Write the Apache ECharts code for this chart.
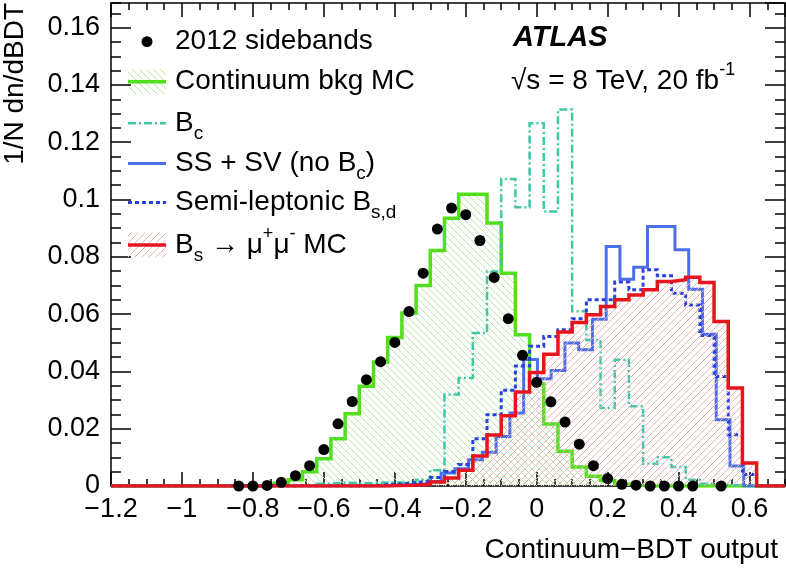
<!DOCTYPE html>
<html><head><meta charset="utf-8">
<script src="https://cdn.jsdelivr.net/npm/echarts@6/dist/echarts.min.js"></script>
<style>html,body{margin:0;padding:0;background:#fff}#c{width:786px;height:570px}</style>
</head><body><div id="c"></div>
<script>
// ---------------- data ----------------
const X_MIN = -1.2, X_MAX = 0.7, Y_MAX = 0.1686;
const binWidth = 0.04;
const binCenters = [-1.20,-1.16,-1.12,-1.08,-1.04,-1.00,-0.96,-0.92,-0.88,-0.84,
 -0.80,-0.76,-0.72,-0.68,-0.64,-0.60,-0.56,-0.52,-0.48,-0.44,
 -0.40,-0.36,-0.32,-0.28,-0.24,-0.20,-0.16,-0.12,-0.08,-0.04,
 0.00,0.04,0.08,0.12,0.16,0.20,0.24,0.28,0.32,0.36,
 0.40,0.44,0.48,0.52,0.56,0.60,0.64,0.68];
const continuumMC = [0,0,0,0,0,0,0,0,0,0,
 0,0.0003,0.0010,0.0022,0.0050,0.0095,0.0165,0.0252,0.0348,0.0433,
 0.0518,0.0604,0.0700,0.0822,0.0935,0.1018,0.1018,0.0918,0.0743,0.0528,
 0.0356,0.0216,0.0121,0.0066,0.0034,0.0019,0.0007,0.0002,0,0,
 0,0,0,0,0,0,0,0];
const bcMC = [0,0,0,0,0,0,0,0,0,0,
 0,0,0,0,0,0.0008,0.0012,0.0010,0.0010,0.0012,
 0.0012,0.0015,0.0022,0.0055,0.0319,0.0377,0.0534,0.0749,0.1072,0.0973,
 0.1266,0.0958,0.1314,0.0610,0.0510,0.0272,0.0441,0.0278,0.0078,0.0100,
 0.0066,0.0022,0.0008,0.0004,0.0002,0,0,0];
const semiLeptonicMC = [0,0,0,0,0,0,0,0,0,0,
 0,0,0,0,0,0,0,0,0,0.0005,
 0.0008,0.0012,0.0018,0.0030,0.0051,0.0075,0.0165,0.0249,0.0334,0.0419,
 0.0488,0.0522,0.0545,0.0584,0.0650,0.0650,0.0712,0.0685,0.0755,0.0734,
 0.0673,0.0632,0.0525,0.0382,0.0179,0.0040,0,0];
const bsmumuMC = [0,0,0,0,0,0,0,0,0,0,
 0,0,0,0,0,0,0,0,0,0,
 0.0002,0.0003,0.0006,0.0014,0.0028,0.0055,0.0105,0.0178,0.0245,0.0328,
 0.0396,0.0460,0.0538,0.0571,0.0598,0.0627,0.0650,0.0667,0.0685,0.0714,
 0.0720,0.0729,0.0710,0.0574,0.0342,0.0080,0,0];
// SS + SV histogram: 49 bins spanning the axis range
const ssSvLo = -1.2, ssSvHi = 0.7;
const ssSvMC = [0,0,0,0,0,0,0,0,0,0,
 0,0,0,0,0,0,0,0,0,0,
 0.0003,0.0005,0.0008,0.0016,0.0045,0.0060,0.0092,0.0118,0.0173,0.0255,
 0.0442,0.0374,0.0403,0.0499,0.0476,0.0582,0.0836,0.0722,0.0764,0.0906,
 0.0906,0.0825,0.0687,0.0530,0.0231,0.0070,0,0,0];
const sidebandX = [-0.84,-0.80,-0.76,-0.72,-0.68,-0.64,-0.60,-0.56,-0.52,-0.48,
 -0.44,-0.40,-0.36,-0.32,-0.28,-0.24,-0.20,-0.16,-0.12,-0.08,
 -0.04,0.00,0.04,0.08,0.12,0.16,0.20,0.24,0.28,0.32,
 0.36,0.40,0.44,0.52];
const sidebandY = [0,0,0.0002,0.0013,0.0036,0.0071,0.0127,0.0217,0.0295,0.0371,
 0.0434,0.0501,0.0609,0.0743,0.0897,0.0970,0.0947,0.0857,0.0728,0.0584,
 0.0456,0.0362,0.0294,0.0223,0.0146,0.0071,0.0026,0.0006,0.0003,0,
 0,0,0,0];
const xMajor = 0.2, xMinor = 0.05, yMajor = 0.02, yMinor = 0.005;

// ---------------- helpers ----------------
const FONT = '"Liberation Sans", Arial, Helvetica, sans-serif';
function histFromCenters(centers, vals, w) {
  const pts = centers.map((c, i) => [Math.max(X_MIN, c - w / 2), vals[i]]);
  pts.push([Math.min(X_MAX, centers[centers.length - 1] + w / 2), vals[vals.length - 1]]);
  return pts;
}
function histFromRange(lo, hi, vals) {
  const w = (hi - lo) / vals.length;
  const pts = vals.map((v, k) => [lo + k * w, v]);
  pts.push([hi, vals[vals.length - 1]]);
  return pts;
}
function hatch(color, dir) {
  const s = 7;
  const c = document.createElement('canvas'); c.width = s; c.height = s;
  const g = c.getContext('2d'); g.strokeStyle = color; g.lineWidth = 1;
  g.beginPath();
  for (const o of [-s, 0, s]) {
    if (dir === 'back') { g.moveTo(o, 0); g.lineTo(o + s, s); }
    else { g.moveTo(o, s); g.lineTo(o + s, 0); }
  }
  g.stroke();
  return { image: c, repeat: 'repeat' };
}
const GREEN = '#52E01E', TEAL = '#3FC8A2', BLUE = '#4A6FE6', DBLUE = '#2A40DE', RED = '#E6141C';
const greenHatch = hatch('#B2E8A4', 'back');
const redHatch = hatch('#EFB2B2', 'fwd');
const BC_DASH = [8, 3, 2, 3], DOT_DASH = [4, 3];

const blk = { color: '#000', width: 1.5 };
function xAxisDef(pos, interval, tickLen, withLine, withLabel) {
  return {
    type: 'value', position: pos, min: X_MIN, max: X_MAX, interval: interval,
    axisLine: { show: withLine, onZero: false, lineStyle: blk },
    axisTick: { show: true, inside: true, length: tickLen, lineStyle: blk },
    splitLine: { show: false },
    axisLabel: withLabel ? {
      show: true, margin: 10, fontSize: 27, color: '#000', fontFamily: FONT,
      showMaxLabel: false,
      formatter: v => String(+(+v).toFixed(2)).replace('-', '\u2212')
    } : { show: false }
  };
}
function yAxisDef(pos, interval, tickLen, withLine, withLabel) {
  return {
    type: 'value', position: pos, min: 0, max: Y_MAX, interval: interval,
    axisLine: { show: withLine, onZero: false, lineStyle: blk },
    axisTick: { show: true, inside: true, length: tickLen, lineStyle: blk },
    splitLine: { show: false },
    axisLabel: withLabel ? {
      show: true, margin: 11, fontSize: 27, color: '#000', fontFamily: FONT,
      showMaxLabel: false,
      formatter: v => String(+(+v).toFixed(3))
    } : { show: false }
  };
}
function lineSeries(name, data, color, width, type, area, z) {
  const s = {
    type: 'line', name: name, data: data, step: 'end', symbol: 'none', showSymbol: false,
    xAxisIndex: 0, yAxisIndex: 0, z: z, clip: true,
    lineStyle: { color: color, width: width, type: type, cap: 'butt', join: 'miter' },
    emphasis: { disabled: true }
  };
  if (area) s.areaStyle = { color: area, opacity: 1 };
  return s;
}

const RICH = {
  m: { fontSize: 28, lineHeight: 40, fontFamily: FONT, fill: '#000', color: '#000' },
  sub: { fontSize: 19, lineHeight: 20, verticalAlign: 'bottom', fontFamily: FONT, fill: '#000', color: '#000' },
  sup: { fontSize: 18, lineHeight: 22, verticalAlign: 'top', fontFamily: FONT, fill: '#000', color: '#000' }
};
function rtext(x, y, text, extra) {
  return Object.assign({
    type: 'text', x: x, y: y, z: 100,
    style: { text: text, rich: RICH, fill: '#000', fontSize: 28, fontFamily: FONT,
      align: 'left', verticalAlign: 'middle', textAlign: 'left', textVerticalAlign: 'middle' }
  }, extra || {});
}

const LX1 = 128, LX2 = 166, LTX = 175;
const rows = [41.7, 81.7, 123.3, 163.5, 202.5, 245];
const graphics = [
  // legend symbols
  { type: 'circle', z: 100, shape: { cx: 147, cy: rows[0], r: 5.5 }, style: { fill: '#000' } },
  { type: 'rect', z: 100, shape: { x: LX1, y: rows[1] - 12.5, width: LX2 - LX1, height: 25 }, style: { fill: greenHatch } },
  { type: 'line', z: 101, shape: { x1: LX1, y1: rows[1], x2: LX2, y2: rows[1] }, style: { stroke: GREEN, lineWidth: 3.5 } },
  { type: 'line', z: 101, shape: { x1: LX1, y1: rows[2], x2: LX2, y2: rows[2] }, style: { stroke: TEAL, lineWidth: 2.5, lineDash: BC_DASH } },
  { type: 'line', z: 101, shape: { x1: LX1, y1: rows[3], x2: LX2, y2: rows[3] }, style: { stroke: BLUE, lineWidth: 3 } },
  { type: 'line', z: 101, shape: { x1: LX1, y1: rows[4], x2: LX2, y2: rows[4] }, style: { stroke: DBLUE, lineWidth: 3, lineDash: DOT_DASH } },
  { type: 'rect', z: 100, shape: { x: LX1, y: rows[5] - 12.5, width: LX2 - LX1, height: 25 }, style: { fill: redHatch } },
  { type: 'line', z: 101, shape: { x1: LX1, y1: rows[5], x2: LX2, y2: rows[5] }, style: { stroke: RED, lineWidth: 3.5 } },
  // legend texts
  rtext(LTX, rows[0], '{m|2012 sidebands}'),
  rtext(LTX, rows[1], '{m|Continuum bkg MC}'),
  rtext(LTX, rows[2], '{m|B}{sub|c}'),
  rtext(LTX, rows[3], '{m|SS + SV (no B}{sub|c}{m|)}'),
  rtext(LTX, rows[4], '{m|Semi-leptonic B}{sub|s,d}'),
  rtext(LTX, rows[5], '{m|B}{sub|s}{m| \u2192 \u03bc}{sup|+}{m|\u03bc}{sup|-}{m| MC}'),
  // ATLAS label
  { type: 'text', x: 513, y: 37.5, z: 100, style: { text: 'ATLAS', fill: '#000', fontSize: 29, fontWeight: 'bold', fontStyle: 'italic', fontFamily: FONT, align: 'left', verticalAlign: 'middle', textAlign: 'left', textVerticalAlign: 'middle' } },
  rtext(511, 81.5, '{m|\u221As = 8 TeV, 20 fb}{sup|-1}'),
  // axis titles
  { type: 'text', x: 778, y: 550, z: 100, style: { text: 'Continuum\u2212BDT output', fill: '#000', fontSize: 28, fontFamily: FONT, align: 'right', verticalAlign: 'middle', textAlign: 'right', textVerticalAlign: 'middle' } },
  { type: 'text', x: 15, y: 3, rotation: Math.PI / 2, z: 100, style: { text: '1/N dn/dBDT', fill: '#000', fontSize: 28, fontFamily: FONT, align: 'right', verticalAlign: 'middle', textAlign: 'right', textVerticalAlign: 'middle' } }
];

const chart = echarts.init(document.getElementById('c'), null, { renderer: 'canvas' });
chart.setOption({
  animation: false,
  backgroundColor: '#fff',
  grid: { left: 111, right: 1, top: 3, bottom: 84, containLabel: false, outerBoundsMode: 'none' },
  xAxis: [
    xAxisDef('bottom', xMajor, 14, true, true),
    xAxisDef('bottom', xMinor, 7, false, false),
    xAxisDef('top', xMajor, 14, true, false),
    xAxisDef('top', xMinor, 7, false, false)
  ],
  yAxis: [
    yAxisDef('left', yMajor, 20, true, true),
    yAxisDef('left', yMinor, 10, false, false),
    yAxisDef('right', yMajor, 20, true, false),
    yAxisDef('right', yMinor, 10, false, false)
  ],
  series: [
    lineSeries('Continuum bkg MC', histFromCenters(binCenters, continuumMC, binWidth), GREEN, 3.5, 'solid', greenHatch, 2),
    lineSeries('Bc', histFromCenters(binCenters, bcMC, binWidth), TEAL, 2.5, BC_DASH, null, 3),
    lineSeries('SS + SV (no Bc)', histFromRange(ssSvLo, ssSvHi, ssSvMC), BLUE, 3, 'solid', null, 4),
    lineSeries('Semi-leptonic Bs,d', histFromCenters(binCenters, semiLeptonicMC, binWidth), DBLUE, 3, DOT_DASH, null, 5),
    lineSeries('Bs -> mumu MC', histFromCenters(binCenters, bsmumuMC, binWidth), RED, 3.5, 'solid', redHatch, 6),
    { type: 'scatter', name: '2012 sidebands', xAxisIndex: 0, yAxisIndex: 0, z: 7, clip: false,
      data: sidebandX.map((x, i) => [x, sidebandY[i]]), symbol: 'circle', symbolSize: 11,
      itemStyle: { color: '#000', opacity: 1 }, emphasis: { disabled: true } }
  ],
  graphic: graphics
});
</script>
</body></html>
